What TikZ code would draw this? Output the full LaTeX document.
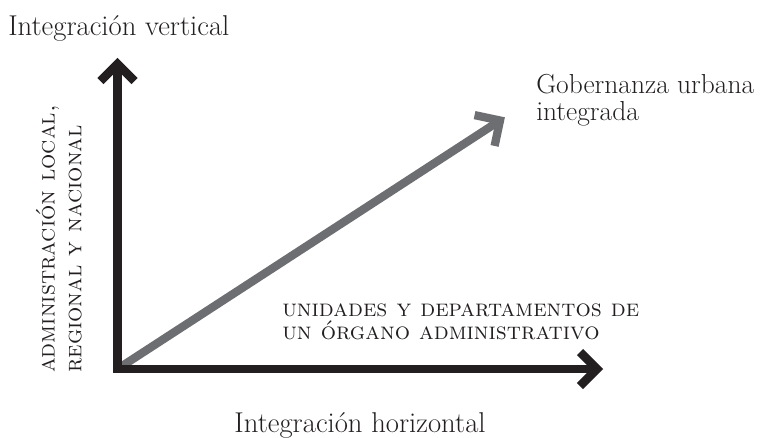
\documentclass[tikz,border=0pt]{standalone}
\usepackage{fontspec}
\usetikzlibrary{calc}
\definecolor{ink}{RGB}{35,31,32}
\definecolor{midgray}{RGB}{109,110,113}
\begin{document}
\begin{tikzpicture}[x=0.75pt,y=-0.75pt,
  axisline/.style={draw=ink,line width=6.4pt,line join=miter,line cap=butt},
  diagline/.style={draw=midgray,line width=6.2pt,line join=miter,line cap=butt},
  biglabel/.style={font=\fontsize{21.5}{20.5pt}\selectfont,text=ink,inner sep=0pt},
  sclabel/.style={font=\fontsize{18}{17.5pt}\selectfont\scshape,text=ink,inner sep=0pt,align=left},
]
\useasboundingbox (0,0) rectangle (761,437);
% coordinates
\coordinate (O) at (117.5,369);
\coordinate (Y) at (117.5,64);
\coordinate (X) at (597,369);
\coordinate (G) at (500,120.5);
% diagonal arrow
\draw[diagline] (O) -- (G);
\draw[diagline] ($(G)!19.5pt!45:(O)$) -- (G) -- ($(G)!19.5pt!-45:(O)$);
% axes
\draw[axisline] (Y) -- (O) -- (X);
\draw[axisline] ($(Y)+(-17,17)$) -- (Y) -- ($(Y)+(17,17)$);
\draw[axisline] ($(X)+(-17,-17)$) -- (X) -- ($(X)+(-17,17)$);
% labels
\node[biglabel,anchor=base west] (tv) at (8,35) {Integración vertical};
\node[biglabel,anchor=base] (th) at (360,432) {Integración horizontal};
\node[biglabel,anchor=north west,align=left,font=\fontsize{20.6}{20.5pt}\selectfont] (gu) at (536,74) {Gobernanza urbana\\integrada};
\node[sclabel,anchor=south west,font=\fontsize{18}{20pt}\selectfont\scshape,rotate=90] (vl) at (82,373) {administración local,\\regional y nacional};
\node[sclabel,anchor=south west] (hl) at (282,340) {unidades y departamentos de\\un órgano administrativo};
\end{tikzpicture}
\end{document}
